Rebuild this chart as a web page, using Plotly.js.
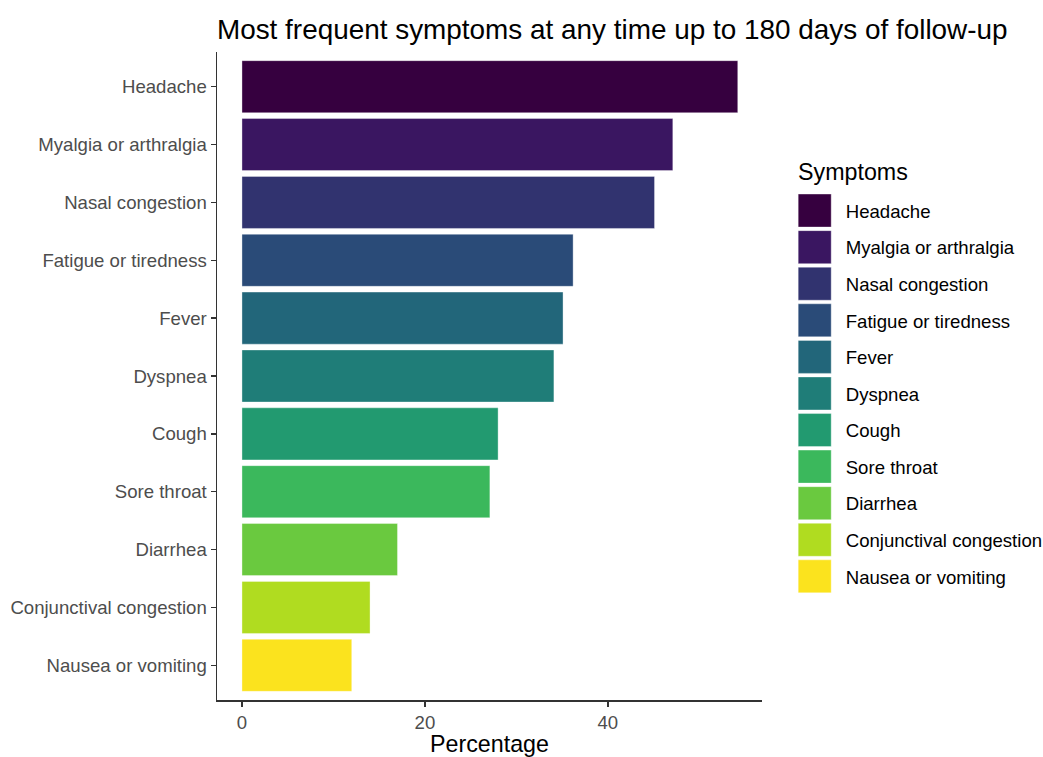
<!DOCTYPE html>
<html>
<head>
<meta charset="utf-8">
<script src="https://cdn.plot.ly/plotly-3.0.1.min.js"></script>
<style>html,body{margin:0;padding:0;background:#fff;}</style>
</head>
<body>
<div id="chart" style="width:1043px;height:757px;"></div>
<script>
const symptoms = ["Headache","Myalgia or arthralgia","Nasal congestion","Fatigue or tiredness","Fever","Dyspnea","Cough","Sore throat","Diarrhea","Conjunctival congestion","Nausea or vomiting"];
const percentages = [54.2, 47.1, 45.1, 36.2, 35.1, 34.1, 28.0, 27.1, 17.0, 14.0, 12.0];
const colors = ["#36003f","#3a1661","#31336f","#2a4b78","#22667a","#1f7d78","#229a70","#3bb85c","#6ac93f","#b0dc20","#fbe31e"];
const legendTitle = 'Symptoms';

const traces = symptoms.map((s, i) => ({
  type: 'bar',
  orientation: 'h',
  name: s,
  legendgroup: s,
  y: [s],
  x: [percentages[i]],
  width: 0.9,
  marker: {color: colors[i], line: {color: 'rgba(255,255,255,0.6)', width: 0.6}},
  hoverinfo: 'x+y'
}));

const layout = {
  width: 1043, height: 757,
  margin: {l: 217, r: 281, t: 52, b: 57, autoexpand: false},
  paper_bgcolor: '#ffffff', plot_bgcolor: '#ffffff',
  font: {family: 'Liberation Sans, Arial, sans-serif', color: '#4d4d4d', size: 18.6},
  barmode: 'overlay',
  title: {text: 'Most frequent symptoms at any time up to 180 days of follow-up',
          font: {size: 27.9, color: '#000000'},
          xref: 'container', x: 0.587, xanchor: 'center',
          yref: 'container', y: 0.962, yanchor: 'middle'},
  xaxis: {
    range: [-2.73, 56.85], tickvals: [0, 20, 40], ticktext: ['0','20','40'],
    showgrid: false, zeroline: false, showline: true, linecolor: '#333333', linewidth: 1.5,
    ticks: 'outside', ticklen: 5, tickwidth: 1.3, tickcolor: '#333333',
    tickfont: {size: 18.6, color: '#4d4d4d'},
    title: {text: 'Percentage', font: {size: 23.25, color: '#000000'}, standoff: 3}
  },
  yaxis: {
    type: 'category', categoryorder: 'array', categoryarray: symptoms,
    range: [10.6, -0.6],
    showgrid: false, zeroline: false, showline: true, linecolor: '#333333', linewidth: 1.5,
    ticks: 'outside', ticklen: 5, tickwidth: 1.3, tickcolor: '#333333',
    tickfont: {size: 18.6, color: '#4d4d4d'}
  },
  showlegend: true,
  legend: {
    x: 1.06, xanchor: 'left', y: 0.784, yanchor: 'top',
    font: {size: 18.6, color: '#000000'},
    traceorder: 'grouped', tracegroupgap: 9.4,
    itemwidth: 41, bgcolor: 'rgba(0,0,0,0)'
  },
  annotations: [{
    text: legendTitle, xref: 'paper', yref: 'paper', x: 1.062, y: 0.815,
    xanchor: 'left', yanchor: 'middle', showarrow: false,
    font: {size: 23.25, color: '#000000'}
  }]
};

Plotly.newPlot('chart', traces, layout, {displayModeBar: false, staticPlot: true}).then(() => {
  document.querySelectorAll('.legend .legendpoints path').forEach(p => {
    p.setAttribute('d', 'M11,16.5H-22V-16.5H11Z');
    p.style.strokeWidth = '0.6px';
  });
});
</script>
</body>
</html>
